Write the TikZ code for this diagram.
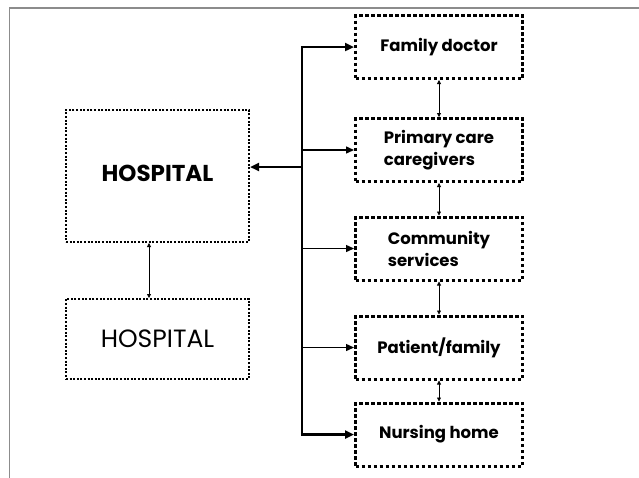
\documentclass[tikz,border=0pt]{standalone}
\usepackage{fontspec}
\setmainfont{Poppins}
\usetikzlibrary{arrows.meta,calc}
\begin{document}
\begin{tikzpicture}[x=1pt,y=-1pt,
  rbox/.style={draw, line width=3pt, dash pattern=on 3.5pt off 2.5pt, minimum width=167pt, minimum height=63pt, inner sep=0pt, font=\bfseries\fontsize{16.5}{22}\selectfont, align=left},
  lbox/.style={draw, line width=2pt, dash pattern=on 2pt off 1.6pt, minimum width=183pt, inner sep=0pt},
  thickarr/.style={line width=2.4pt, -{Triangle[length=9pt,width=8pt]}},
  thinarr/.style={line width=1.4pt, -{Triangle[length=8pt,width=7pt]}},
  dbl/.style={line width=0.8pt, {Triangle[length=4pt,width=4pt]}-{Triangle[length=4pt,width=4pt]}},
  frame/.style={draw=gray!90, line width=1.5pt}]
\useasboundingbox (0,0) rectangle (639,477);
\draw[frame] (9.5,480) -- (9.5,8) -- (645,8);
% right boxes
\node[rbox] (fd) at (439,47) {Family doctor};
\node[rbox] (pc) at (439,150) {Primary care\\caregivers};
\node[rbox] (cs) at (439,248.5) {Community\\services};
\node[rbox] (pf) at (439,347.5) {Patient/family};
\node[rbox] (nh) at (439,434.5) {Nursing home};
% left boxes
\node[lbox, minimum height=132pt, font=\bfseries\fontsize{23}{26}\selectfont] (h1) at (157.5,176) {\raisebox{5pt}{HOSPITAL}};
\node[lbox, minimum height=80pt, font=\fontsize{25}{28}\selectfont] (h2) at (157.5,339) {\raisebox{-2pt}{HOSPITAL}};
% trunk
\coordinate (t1) at (302,47);
\coordinate (t5) at (302,434.5);
\coordinate (hj) at (302,167);
\coordinate (ax) at (149,0);
\draw[line width=2.4pt] (t1) -- (t5);
\draw[thickarr] ([xshift=-1.2pt]t1) -- (fd.west);
\draw[thickarr] ([xshift=-1.2pt]t5) -- (nh.west);
\draw[thinarr] (pc.west -| t1) -- (pc.west);
\draw[thinarr] (cs.west -| t1) -- (cs.west);
\draw[thinarr] (pf.west -| t1) -- (pf.west);
\draw[thickarr] (hj) -- (hj -| h1.east);
% double arrows
\draw[dbl] (fd.south) -- (pc.north);
\draw[dbl] (pc.south) -- (cs.north);
\draw[dbl] (cs.south) -- (pf.north);
\draw[dbl] (pf.south) -- (nh.north);
\draw[dbl] (h1.south -| ax) -- (h2.north -| ax);
\end{tikzpicture}
\end{document}
